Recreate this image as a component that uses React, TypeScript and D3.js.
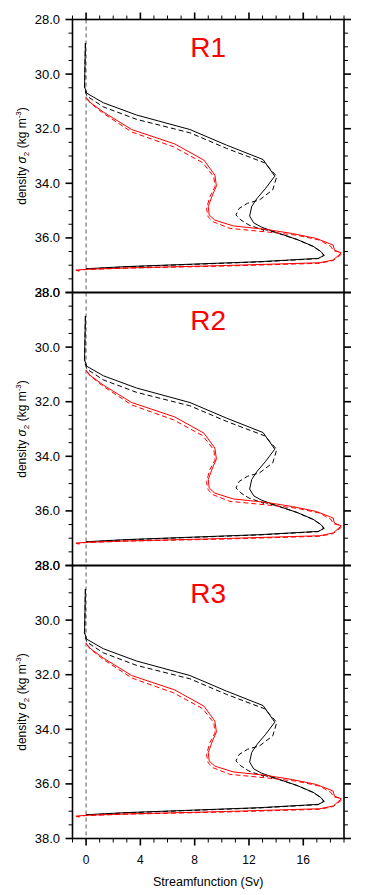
import React, { useEffect, useRef } from 'react';
import * as d3 from 'd3';

// streamfunction (Sv) vs density sigma2
const regions = ['R1', 'R2', 'R3'];

const blackSolid: [number, number][] = [
  [-0.05, 28.86], [-0.1, 30.2], [-0.12, 30.46], [0.05, 30.7], [1.27, 31.05], [3.73, 31.5],
  [7.65, 32.03], [10.34, 32.6], [13.04, 33.13], [13.9, 33.74], [13.2, 34.2], [12.6, 34.55],
  [12.2, 34.85], [12.05, 35.2], [12.35, 35.45], [12.9, 35.6], [14.0, 35.8], [15.5, 36.05],
  [16.7, 36.3], [17.3, 36.5], [17.55, 36.64], [17.1, 36.75], [12.8, 36.87], [7.9, 36.96],
  [3.0, 37.05], [0, 37.13]
];

const blackDashed: [number, number][] = [
  [-0.05, 28.86], [-0.1, 30.3], [-0.1, 30.55], [0.05, 30.8], [1.27, 31.2], [3.73, 31.66],
  [7.65, 32.15], [10.34, 32.72], [13.16, 33.25], [13.7, 33.55], [14.05, 33.75], [13.75, 34.24],
  [12.77, 34.61], [11.9, 34.73], [11.28, 34.92], [11.04, 35.16], [11.4, 35.34], [12.0, 35.53],
  [13.1, 35.72], [12.9, 35.66], [14.1, 35.82], [15.6, 36.07], [16.7, 36.31], [17.3, 36.5],
  [17.5, 36.64], [17.1, 36.76], [12.8, 36.88], [7.9, 36.97], [3.0, 37.06], [0, 37.14]
];

const redSolid: [number, number][] = [
  [0.0, 30.85], [0.2, 31.0], [1.27, 31.39], [3.36, 32.03], [6.54, 32.56], [8.68, 33.15],
  [9.49, 33.7], [9.6, 34.1], [9.31, 34.43], [9.0, 34.85], [9.07, 35.16], [9.49, 35.35],
  [10.83, 35.56], [13.28, 35.69], [15.2, 35.84], [16.96, 36.02], [18.2, 36.26], [18.3, 36.45],
  [18.8, 36.55], [18.2, 36.81], [17.2, 36.91], [10.34, 37.01], [3.0, 37.1], [0, 37.15],
  [-0.75, 37.18], [-0.5, 37.22]
];

const redDashed: [number, number][] = [
  [0.1, 30.9], [0.3, 31.05], [1.27, 31.44], [3.36, 32.12], [6.42, 32.66], [8.58, 33.24],
  [9.41, 33.76], [9.5, 34.13], [9.12, 34.49], [8.87, 34.92], [8.99, 35.23], [9.36, 35.41],
  [10.59, 35.65], [13.28, 35.78], [15.5, 35.9], [17.2, 36.08], [18.06, 36.32], [18.2, 36.47],
  [18.7, 36.52], [18.8, 36.6], [18.2, 36.83], [17.2, 36.93], [10.34, 37.03], [3.0, 37.11],
  [0, 37.16], [-0.7, 37.2]
];

const xTicks = [0, 4, 8, 12, 16];
const yTicks = [28, 30, 32, 34, 36, 38];

const FONT = '"Liberation Sans", Arial, Helvetica, sans-serif';

const App: React.FC = () => {
  const svgRef = useRef<SVGSVGElement>(null);

  useEffect(() => {
    if (!svgRef.current) return;
    const svg = d3.select(svgRef.current);
    svg.selectAll('*').remove();

    const left = 72.5;
    const right = 344;
    const panelH = 273;
    const tops = [19.5, 292.5, 565.5];

    const x = d3.scaleLinear().domain([-1, 19]).range([left, right]);
    const xMinor = d3.range(-1, 20, 1);
    const yMinor = d3.range(28, 38.01, 0.5);

    regions.forEach((name, i) => {
      const top = tops[i];
      const y = d3.scaleLinear().domain([28, 38]).range([top, top + panelH]);
      const g = svg.append('g');

      const line = d3.line<[number, number]>()
        .x(d => x(d[0]))
        .y(d => y(d[1]));

      // zero line
      g.append('line')
        .attr('x1', x(0)).attr('x2', x(0))
        .attr('y1', y(28)).attr('y2', y(38))
        .attr('stroke', '#111')
        .attr('stroke-width', 0.7)
        .attr('stroke-dasharray', '4,3');

      const curves: { data: [number, number][]; color: string; dash: string | null }[] = [
        { data: blackDashed, color: '#000', dash: '5,3' },
        { data: blackSolid, color: '#000', dash: null },
        { data: redDashed, color: '#ff0000', dash: '5,3' },
        { data: redSolid, color: '#ff0000', dash: null }
      ];
      curves.forEach(c => {
        g.append('path')
          .datum(c.data)
          .attr('fill', 'none')
          .attr('stroke', c.color)
          .attr('stroke-width', 1)
          .attr('stroke-dasharray', c.dash)
          .attr('d', line);
      });

      // frame
      g.append('rect')
        .attr('x', left).attr('y', top)
        .attr('width', right - left).attr('height', panelH)
        .attr('fill', 'none')
        .attr('stroke', '#000')
        .attr('stroke-width', 1.6);

      // y ticks, outward on both sides
      yMinor.forEach(v => {
        const major = Math.abs(v - Math.round(v / 2) * 2) < 1e-6;
        const len = major ? 7 : 4;
        g.append('line')
          .attr('x1', left - len).attr('x2', left)
          .attr('y1', y(v)).attr('y2', y(v))
          .attr('stroke', '#000').attr('stroke-width', major ? 1.6 : 1);
        g.append('line')
          .attr('x1', right).attr('x2', right + len)
          .attr('y1', y(v)).attr('y2', y(v))
          .attr('stroke', '#000').attr('stroke-width', major ? 1.6 : 1);
      });

      yTicks.forEach(v => {
        g.append('text')
          .attr('x', 60)
          .attr('y', y(v) + 4.5)
          .attr('text-anchor', 'end')
          .attr('font-family', FONT)
          .attr('font-size', 13)
          .attr('fill', '#000')
          .text(v.toFixed(1));
      });

      // x ticks: top of first panel, bottom of last
      const edges: { yy: number; dir: number }[] = [];
      if (i === 0) edges.push({ yy: top, dir: -1 });
      if (i === regions.length - 1) edges.push({ yy: top + panelH, dir: 1 });
      edges.forEach(e => {
        xMinor.forEach(v => {
          const major = xTicks.includes(v);
          const len = major ? 7 : 4;
          g.append('line')
            .attr('x1', x(v)).attr('x2', x(v))
            .attr('y1', e.yy).attr('y2', e.yy + e.dir * len)
            .attr('stroke', '#000').attr('stroke-width', major ? 1.6 : 1);
        });
      });

      // y title
      const yt = g.append('text')
        .attr('transform', `translate(26,${top + panelH / 2}) rotate(-90)`)
        .attr('text-anchor', 'middle')
        .attr('font-family', FONT)
        .attr('font-size', 12)
        .attr('fill', '#000');
      yt.append('tspan').text('density ');
      yt.append('tspan').attr('font-style', 'italic').text('σ');
      yt.append('tspan').attr('font-size', 8).attr('dy', 3).text('2');
      yt.append('tspan').attr('dy', -3).text(' (kg m');
      yt.append('tspan').attr('font-size', 8).attr('dy', -5).text('-3');
      yt.append('tspan').attr('dy', 5).text(')');

      // region title
      g.append('text')
        .attr('x', (left + right) / 2)
        .attr('y', top + 37.5)
        .attr('text-anchor', 'middle')
        .attr('font-family', FONT)
        .attr('font-size', 28)
        .attr('fill', '#ff0000')
        .text(name);
    });

    const bottom = tops[regions.length - 1] + panelH;
    xTicks.forEach(v => {
      svg.append('text')
        .attr('x', x(v))
        .attr('y', bottom + 25)
        .attr('text-anchor', 'middle')
        .attr('font-family', FONT)
        .attr('font-size', 12)
        .attr('fill', '#000')
        .text(v);
    });

    svg.append('text')
      .attr('x', (left + right) / 2)
      .attr('y', bottom + 47)
      .attr('text-anchor', 'middle')
      .attr('font-family', FONT)
      .attr('font-size', 12.5)
      .attr('fill', '#000')
      .text('Streamfunction (Sv)');
  }, []);

  return (
    <div style={{ position: 'absolute', left: 0, top: 0 }}>
      <svg ref={svgRef} width={365} height={895} style={{ display: 'block', background: '#fff' }} />
    </div>
  );
};

export default App;
